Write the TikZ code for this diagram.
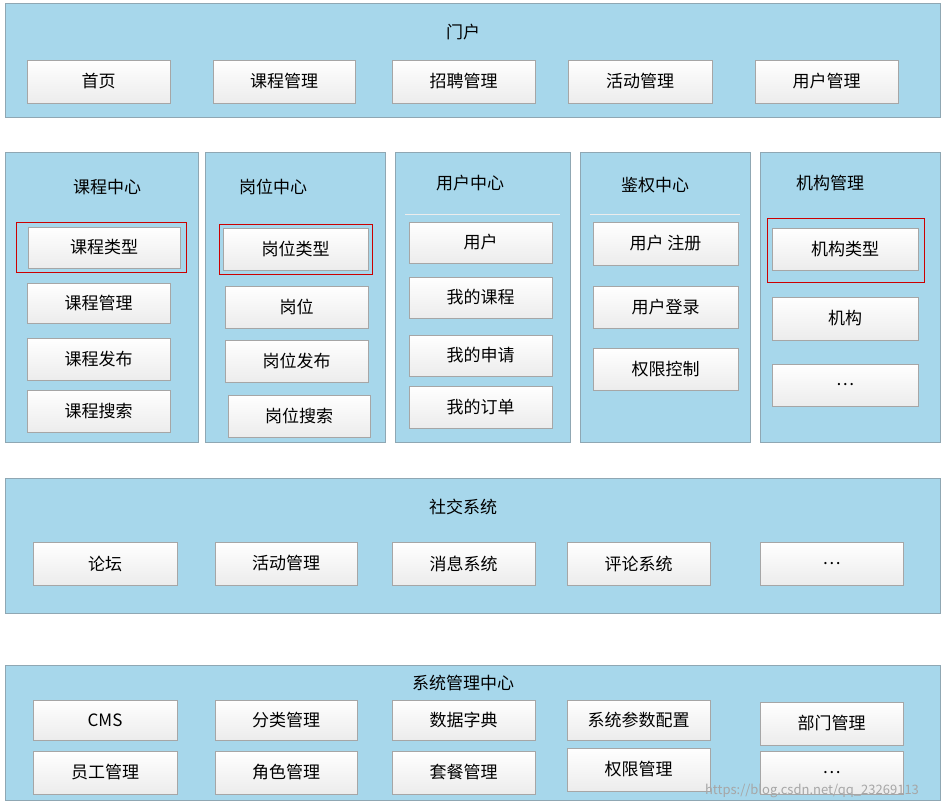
\documentclass[tikz,border=0pt]{standalone}
\usepackage{fontspec}
\setmainfont{Noto Sans CJK SC}
\usetikzlibrary{shadows}
\definecolor{panel}{HTML}{A7D7EB}
\definecolor{pborder}{HTML}{8FA7B3}
\tikzset{
 pnl/.style={draw=pborder,fill=panel,line width=0.8pt},
 btn/.style={draw=gray!70,top color=white,bottom color=gray!15,line width=0.6pt,font=\fontsize{17}{17}\selectfont,inner sep=0pt,drop shadow={shadow xshift=1.2pt,shadow yshift=-1.2pt,opacity=0.35}},
 ttl/.style={font=\fontsize{17}{17}\selectfont},
 redbox/.style={draw=red!80!black,line width=0.9pt},
 sep/.style={draw=white!85!gray,line width=1pt}
}
\newcommand\bt[6]{\node[btn,minimum width={(#4)-(#2)},minimum height={(#5)-(#3)}] (#1) at ({((#2)+(#4))/2},{((#3)+(#5))/2}) {#6};}
\begin{document}
\begin{tikzpicture}[x=1pt,y=-1pt]
\useasboundingbox[fill=white] (0,0) rectangle (946,811);
% top
\draw[pnl] (5,3) rectangle (940,117);
\node[ttl] (t0) at (463,32) {门户};
\bt{a1}{27}{60}{170}{103}{首页}
\bt{a2}{213}{60}{355}{103}{课程管理}
\bt{a3}{392}{60}{535}{103}{招聘管理}
\bt{a4}{568}{60}{712}{103}{活动管理}
\bt{a5}{755}{60}{898}{103}{用户管理}
% columns
\draw[pnl] (5,152) rectangle (198,442);
\draw[pnl] (205,152) rectangle (385,442);
\draw[pnl] (395,152) rectangle (570,442);
\draw[pnl] (580,152) rectangle (750,442);
\draw[pnl] (760,152) rectangle (940,442);
\node[ttl] (t1) at (107,187) {课程中心};
\node[ttl] (t2) at (273,187) {岗位中心};
\node[ttl] (t3) at (470,183) {用户中心};
\node[ttl] (t4) at (655,185) {鉴权中心};
\node[ttl] (t5) at (830,183) {机构管理};
\draw[sep] (405,214) -- (560,214);
\draw[sep] (590,214) -- (740,214);
\bt{c1}{28}{227}{180}{268}{课程类型}
\draw[redbox] (16,222) rectangle (186,272);
\bt{c2}{27}{283}{170}{323}{课程管理}
\bt{c3}{27}{338}{170}{380}{课程发布}
\bt{c4}{27}{390}{170}{432}{课程搜索}
\bt{d1}{223}{228}{368}{270}{岗位类型}
\draw[redbox] (219,224) rectangle (372,274);
\bt{d2}{225}{286}{368}{328}{岗位}
\bt{d3}{225}{340}{368}{382}{岗位发布}
\bt{d4}{228}{395}{370}{437}{岗位搜索}
\bt{e1}{409}{222}{552}{263}{用户}
\bt{e2}{409}{277}{552}{318}{我的课程}
\bt{e3}{409}{335}{552}{376}{我的申请}
\bt{e4}{409}{386}{552}{428}{我的订单}
\bt{f1}{593}{222}{738}{265}{用户 注册}
\bt{f2}{593}{286}{738}{328}{用户登录}
\bt{f3}{593}{348}{738}{390}{权限控制}
\bt{g1}{772}{228}{918}{270}{机构类型}
\draw[redbox] (767,218) rectangle (924,282);
\bt{g2}{772}{297}{918}{340}{机构}
\bt{g3}{772}{364}{918}{406}{…}
% social
\draw[pnl] (5,478) rectangle (940,613);
\node[ttl] (t6) at (463,507) {社交系统};
\bt{h1}{33}{542}{177}{585}{论坛}
\bt{h2}{215}{542}{357}{585}{活动管理}
\bt{h3}{392}{542}{535}{585}{消息系统}
\bt{h4}{567}{542}{710}{585}{评论系统}
\bt{h5}{760}{542}{903}{585}{…}
% system
\draw[pnl] (5,665) rectangle (940,800);
\node[ttl] (t7) at (463,683) {系统管理中心};
\bt{i1}{33}{700}{177}{740}{CMS}
\bt{i2}{215}{700}{357}{740}{分类管理}
\bt{i3}{392}{700}{535}{740}{数据字典}
\bt{i4}{567}{700}{710}{740}{系统参数配置}
\bt{i5}{760}{702}{903}{745}{部门管理}
\bt{j1}{33}{751}{177}{794}{员工管理}
\bt{j2}{215}{751}{357}{794}{角色管理}
\bt{j3}{392}{751}{535}{794}{套餐管理}
\bt{j4}{567}{748}{710}{791}{权限管理}
\bt{j5}{760}{751}{903}{794}{…}
\node[text=gray!70,font=\fontsize{13}{13}\selectfont] (wm) at (812,791) {https://blog.csdn.net/qq\_23269113};
\end{tikzpicture}
\end{document}
